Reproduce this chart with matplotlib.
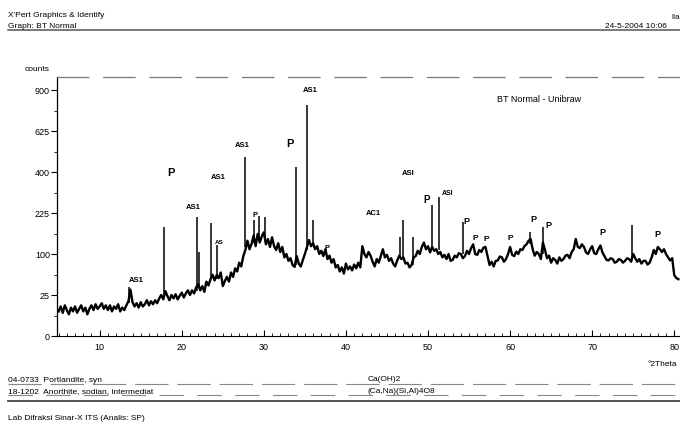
import matplotlib.pyplot as plt
import matplotlib.ticker as ticker
import numpy as np

plt.rcParams['font.family'] = ['Liberation Sans', 'DejaVu Sans']

# scan trace, counts every 0.25 deg from 5.0 to 80.5
theta_start, theta_step = 5.0, 0.25
counts = [9, 13, 8, 14, 10, 7, 12, 9, 13, 8, 11, 14, 9, 12, 7, 11,
          14, 10, 15, 11, 13, 16, 11, 14, 10, 14, 9, 13, 11, 15, 9, 12,
          10, 14, 18, 32, 17, 13, 16, 12, 17, 13, 15, 19, 14, 18, 15, 19,
          16, 21, 25, 20, 30, 24, 19, 25, 21, 26, 20, 24, 28, 22, 27, 31,
          25, 31, 27, 35, 40, 31, 37, 29, 44, 38, 48, 56, 46, 55, 50, 60,
          37, 45, 52, 44, 60, 52, 68, 62, 80, 72, 95, 110, 135, 112, 126, 150,
          120, 155, 130, 148, 160, 125, 140, 118, 145, 120, 110, 128, 105, 118, 92, 100,
          84, 90, 75, 71, 95, 78, 72, 86, 100, 118, 137, 120, 128, 112, 120, 100,
          108, 95, 112, 88, 96, 80, 88, 70, 75, 62, 70, 58, 78, 66, 72, 64,
          76, 68, 80, 70, 120, 100, 92, 105, 96, 82, 72, 88, 80, 95, 112, 92,
          98, 84, 90, 78, 72, 85, 96, 88, 92, 78, 80, 70, 75, 92, 95, 108,
          100, 118, 130, 112, 120, 104, 118, 108, 112, 100, 105, 92, 98, 88, 100, 84,
          86, 96, 92, 102, 100, 90, 95, 108, 100, 115, 125, 100, 98, 110, 105, 116,
          118, 95, 75, 82, 72, 84, 85, 94, 92, 82, 88, 100, 118, 98, 95, 106,
          100, 112, 110, 120, 125, 135, 140, 112, 96, 105, 100, 88, 130, 110, 90, 96,
          80, 90, 86, 78, 92, 84, 88, 96, 98, 90, 105, 112, 140, 118, 115, 125,
          118, 104, 100, 112, 120, 102, 100, 112, 122, 104, 95, 86, 85, 90, 88, 80,
          82, 88, 86, 80, 84, 90, 88, 82, 100, 90, 82, 88, 78, 84, 84, 76,
          80, 92, 110, 100, 118, 112, 105, 112, 100, 92, 85, 90, 55, 50, 48]

# sharp reflections: position, base, top
peak_pos = [13.6, 17.8, 21.8, 22.1, 23.6, 24.3, 27.7, 28.8, 29.4, 30.1, 33.9, 35.2, 36.0,
            46.6, 47.0, 48.2, 50.5, 51.3, 54.3, 62.4, 64.0, 74.9]
peak_base = [16, 26, 30, 35, 50, 48, 118, 130, 140, 140, 75, 110, 125,
             90, 92, 75, 115, 110, 100, 125, 100, 90]
peak_top = [36, 177, 210, 105, 190, 123, 477, 200, 215, 210, 425, 794, 200,
            146, 200, 146, 255, 287, 193, 161, 177, 183]

# phase labels: text, 2theta, counts, font size
labels = [('AS1', 14.5, 40, 5.5), ('P', 18.7, 372, 8), ('AS1', 21.4, 232, 5.5),
          ('AS1', 24.4, 357, 5.5), ('AS', 24.6, 123, 4.5), ('AS1', 27.4, 520, 5.5),
          ('P', 28.9, 204, 5.5), ('P', 33.2, 520, 8), ('AS1', 35.7, 870, 5.5),
          ('P', 37.7, 105, 5.5), ('AC1', 43.4, 210, 5.5), ('ASI', 47.6, 376, 5.5),
          ('P', 49.8, 255, 7), ('ASI', 52.4, 287, 5), ('P', 54.7, 180, 6.5),
          ('P', 55.7, 131, 6), ('P', 57.1, 128, 6), ('P', 60.0, 131, 6),
          ('P', 62.8, 187, 6.5), ('P', 64.7, 167, 6.5), ('P', 71.3, 146, 6.5),
          ('P', 78.0, 140, 6.5)]

y_ticks = [0, 25, 100, 225, 400, 625, 900]

W, H = 680, 424


def px(x, y):
    return x / W, 1 - y / H


fig = plt.figure(figsize=(6.8, 4.24), dpi=100)
ax = fig.add_axes([57 / W, 1 - 336 / H, 623 / W, 259 / H])

theta = theta_start + theta_step * np.arange(len(counts))
ax.plot(theta, counts, color='black', lw=1.7)
ax.vlines(peak_pos, peak_base, peak_top, color='black', lw=1.1)

ax.set_yscale('function', functions=(lambda v: np.sqrt(np.clip(v, 0, None)), np.square))
ax.set_xlim(4.8, 80.7)
ax.set_ylim(0, 998)

for text, x, y, fs in labels:
    ax.text(x, y, text, fontsize=fs, fontweight='bold', ha='center', va='bottom')

ax.text(63.5, 830, 'BT Normal - Unibraw', fontsize=6.5, ha='center', va='center')

ax.yaxis.set_major_locator(ticker.FixedLocator(y_ticks))
ax.yaxis.set_minor_locator(ticker.FixedLocator([v ** 2 for v in [2.5, 7.5, 12.5, 17.5, 22.5, 27.5]]))
ax.xaxis.set_major_locator(ticker.MultipleLocator(10))
ax.xaxis.set_minor_locator(ticker.MultipleLocator(1))
ax.tick_params(axis='y', which='major', direction='out', length=4, width=0.8, labelsize=6.5, pad=1)
ax.tick_params(axis='y', which='minor', direction='out', length=2, width=0.6)
ax.tick_params(axis='x', which='major', direction='in', length=4, width=0.8, labelsize=6.5, pad=5)
ax.tick_params(axis='x', which='minor', direction='in', length=2, width=0.6)

ax.spines['right'].set_visible(False)
ax.spines['top'].set_color('#777777')
ax.spines['top'].set_linestyle((0, (25, 12)))
ax.spines['top'].set_linewidth(0.9)
ax.spines['left'].set_linewidth(0.9)
ax.spines['bottom'].set_linewidth(0.8)
ax.set_facecolor('none')

# page header / footer of the printout
fs = 6
fig.text(*px(8, 17), "X'Pert Graphics & Identify", fontsize=fs, va='baseline')
fig.text(*px(8, 28), 'Graph: BT Normal', fontsize=fs, va='baseline')
fig.text(*px(671, 19), 'lla', fontsize=fs, va='baseline')
fig.text(*px(605, 28), '24-5-2004 10:06', fontsize=fs, va='baseline')
fig.text(*px(25, 71), 'counts', fontsize=fs, va='baseline')
fig.text(*px(648, 366), '°2Theta', fontsize=fs, va='baseline')
fig.text(*px(8, 382), '04-0733  Portlandite, syn', fontsize=fs, va='baseline')
fig.text(*px(8, 393), '18-1202  Anorthite, sodian, intermediat', fontsize=fs, va='baseline')
fig.text(*px(368, 381), 'Ca(OH)2', fontsize=fs, va='baseline')
fig.text(*px(368, 393), '(Ca,Na)(Si,Al)4O8', fontsize=fs, va='baseline')
fig.text(*px(8, 420), 'Lab Difraksi Sinar-X ITS (Analis: SP)', fontsize=fs, va='baseline')

rules = [(8, 680, 30, '#555555', 1.1, '-'),
         (8, 680, 401, '#444444', 1.3, '-'),
         (8, 680, 384, '#888888', 0.8, (0, (30, 8))),
         (8, 680, 395, '#888888', 0.8, (0, (22, 12)))]
for x0, x1, y, c, lw, ls in rules:
    fig.add_artist(plt.Line2D([x0 / W, x1 / W], [1 - y / H, 1 - y / H], color=c, lw=lw, ls=ls))

fig.savefig('out.png', dpi=100)
